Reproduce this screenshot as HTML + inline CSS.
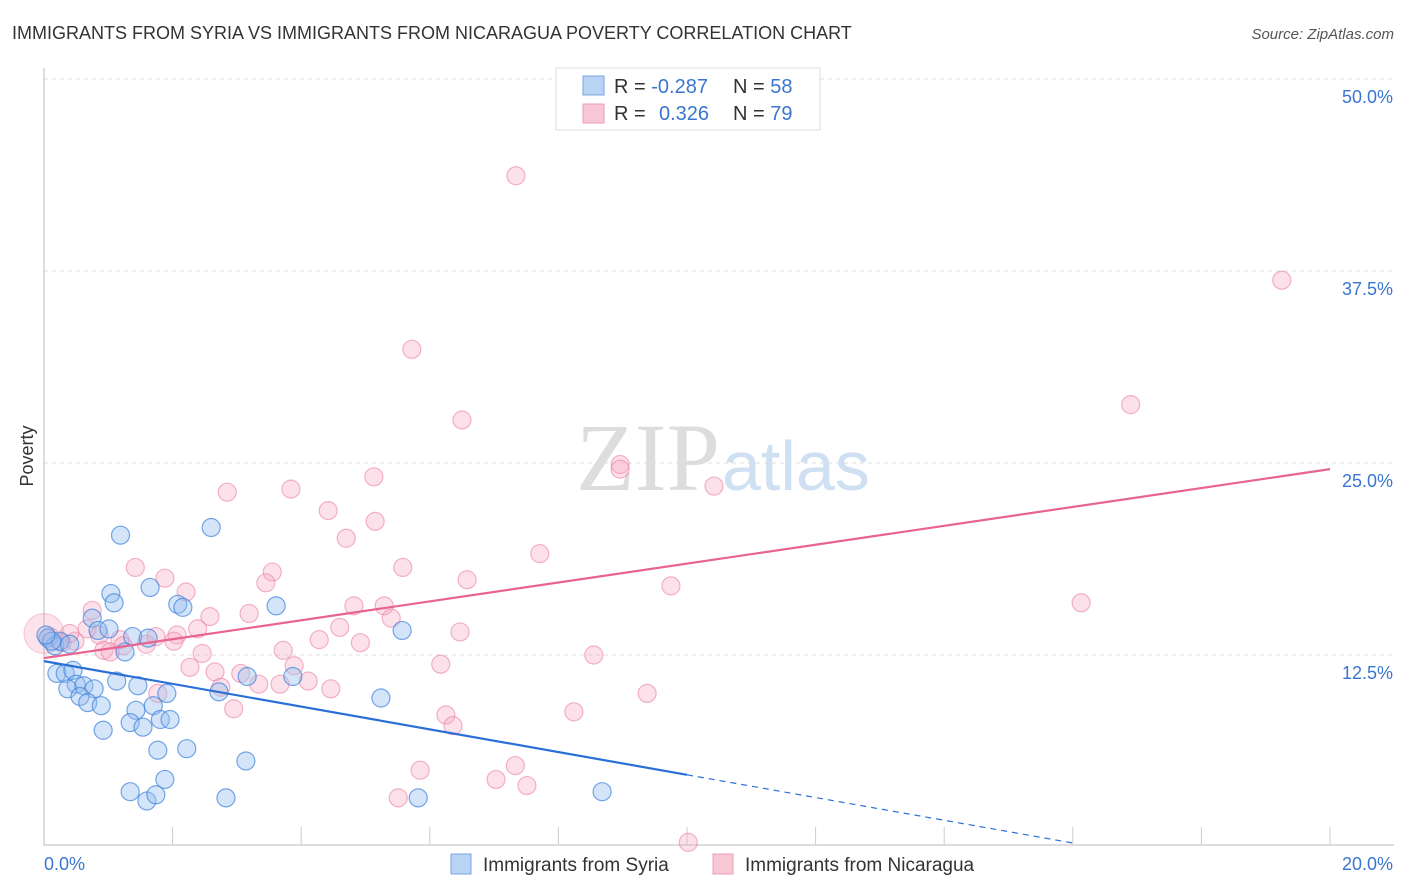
<!DOCTYPE html>
<html><head><meta charset="utf-8">
<style>
body{margin:0;background:#fff;font-family:"Liberation Sans",sans-serif;}
#wrap{position:relative;width:1406px;height:892px;overflow:hidden;}
svg{position:absolute;left:0;top:0;}
</style></head>
<body><div id="wrap">
<svg id="svg" width="1406" height="892">
<text x="12" y="39" font-size="18" fill="#333">IMMIGRANTS FROM SYRIA VS IMMIGRANTS FROM NICARAGUA POVERTY CORRELATION CHART</text>
<text x="1394" y="39" font-size="15" fill="#555" font-style="italic" text-anchor="end">Source: ZipAtlas.com</text>
<text x="720" y="490" font-size="96" fill="#ddd" font-family="Liberation Serif,serif" text-anchor="end">ZIP</text>
<text x="722" y="490" font-size="70" fill="#cfe0f3" text-anchor="start">atlas</text>
<text x="33" y="456" font-size="18" fill="#333" text-anchor="middle" transform="rotate(-90 33 456)">Poverty</text>
<g id="grid"></g><g id="pts"></g><g id="lines"></g>
<g>
<rect x="556" y="68" width="264" height="62" fill="#fff" stroke="#ddd"/>
<rect x="583" y="76" width="21" height="19" fill="#b9d3f5" stroke="#7aa6e0"/>
<rect x="583" y="104" width="21" height="19" fill="#f8c7d6" stroke="#ec9bb4"/>
<text x="614" y="93" font-size="20" fill="#333">R = <tspan fill="#3a76d0">-0.287</tspan></text>
<text x="733" y="93" font-size="20" fill="#333">N = <tspan fill="#3a76d0">58</tspan></text>
<text x="614" y="120" font-size="20" fill="#333">R = <tspan fill="#3a76d0" x="659">0.326</tspan></text>
<text x="733" y="120" font-size="20" fill="#333">N = <tspan fill="#3a76d0">79</tspan></text>
</g>
<g>
<rect x="451" y="854" width="20" height="20" fill="#b9d3f5" stroke="#7aa6e0"/>
<text x="483" y="871" font-size="19" fill="#333">Immigrants from Syria</text>
<rect x="713" y="854" width="20" height="20" fill="#f8c7d6" stroke="#ec9bb4"/>
<text x="745" y="871" font-size="19" fill="#333">Immigrants from Nicaragua</text>
</g>
</svg></div>
<script>
const xTicks=[0,20];
const yTicks=[12.5,25,37.5,50];
const syriaX=[1.19,2.6,1.65,1.04,1.09,2.08,2.16,3.61,0.75,0.84,1.01,1.38,1.62,1.26,5.57,0.06,0.17,0.25,0.4,0.2,0.33,0.45,0.5,0.37,0.62,0.78,0.56,0.68,0.89,0.92,1.13,1.46,1.91,1.7,2.72,3.16,3.87,5.24,1.43,1.34,1.54,1.81,1.96,1.77,2.22,3.14,1.88,1.34,1.6,1.74,2.83,5.82,8.68,0.12,0.03];
const syriaY=[20.3,20.8,16.9,16.5,15.9,15.8,15.6,15.7,14.9,14.1,14.2,13.7,13.6,12.7,14.1,13.6,13.1,13.4,13.2,11.3,11.3,11.5,10.6,10.3,10.5,10.3,9.8,9.4,9.2,7.6,10.8,10.5,10.0,9.2,10.1,11.1,11.1,9.7,8.9,8.1,7.8,8.3,8.3,6.3,6.4,5.6,4.4,3.6,3.0,3.4,3.2,3.2,3.6,13.4,13.8];
const nicX=[7.34,19.25,5.72,16.9,6.5,8.96,8.96,10.42,5.13,2.85,3.84,4.42,5.15,4.7,7.71,1.42,1.88,3.55,3.45,5.58,6.58,9.75,2.21,16.13,0.75,2.58,3.19,4.82,5.29,5.4,4.6,6.47,0.67,0.86,1.18,1.74,2.07,2.39,2.02,1.59,1.23,0.93,1.03,3.72,4.28,4.92,2.46,8.55,2.27,2.66,3.06,3.89,6.17,4.11,2.75,3.34,3.67,4.46,1.77,2.95,6.25,6.36,8.24,9.38,7.33,7.03,5.85,5.51,7.51,10.02,0.09,0.28,0.48,0.4];
const nicY=[43.7,36.9,32.4,28.8,27.8,24.9,24.6,23.5,24.1,23.1,23.3,21.9,21.2,20.1,19.1,18.2,17.5,17.9,17.2,18.2,17.4,17.0,16.6,15.9,15.4,15.0,15.2,15.7,15.7,14.9,14.3,14.0,14.2,13.8,13.5,13.7,13.8,14.2,13.4,13.2,13.1,12.8,12.7,12.8,13.5,13.3,12.6,12.5,11.7,11.4,11.3,11.8,11.9,10.8,10.4,10.6,10.6,10.3,10.0,9.0,8.6,7.9,8.8,10.0,5.3,4.4,5.0,3.2,4.0,0.3,13.7,13.3,13.4,13.9];
const syriaLine=[12.1,-0.74];
const nicLine=[12.3,0.615];
const X=v=>44+v*64.3, Y=v=>847-v*15.36;
const NS='http://www.w3.org/2000/svg';
function mk(t,a,p){const e=document.createElementNS(NS,t);for(const k in a)e.setAttribute(k,a[k]);p.appendChild(e);return e;}
const grid=document.getElementById('grid');
yTicks.forEach(v=>{
 const l=mk('line',{x1:44,x2:1394,y1:Y(v),y2:Y(v),stroke:'#ddd','stroke-dasharray':'4,4'},grid);
 
 
 const t=mk('text',{x:1393,y:Y(v)+24,'font-size':18,fill:'#3a76d0','text-anchor':'end'},grid);
 t.textContent=v.toFixed(1)+'%';
 
 
});
mk('line',{x1:44,x2:44,y1:68,y2:845,stroke:'#bbb'},grid);
mk('line',{x1:44,x2:1394,y1:845,y2:845,stroke:'#bbb'},grid);
for(let i=1;i<=10;i++){const tk=mk('line',{x1:X(i*2),x2:X(i*2),y1:827,y2:845,stroke:'#ccc'},grid);
 
 }
xTicks.forEach((v,i)=>{const t=mk('text',{x:i?1393:44,y:870,'font-size':18,fill:'#3a76d0','text-anchor':i?'end':'start'},grid);
 t.textContent=v.toFixed(1)+'%';
 
 });
const pts=document.getElementById('pts');
const bg=mk('circle',{cx:X(0),cy:Y(13.9),r:20,fill:'rgba(244,160,185,0.3)',stroke:'rgba(234,130,160,0.4)'},pts);


function draw(xs,ys,fill,stroke,name){xs.forEach((v,i)=>{const c=mk('circle',{cx:X(v),cy:Y(ys[i]),r:9,fill,stroke,'stroke-width':1.2},pts);
 
 });}
draw(nicX,nicY,'rgba(246,170,195,0.35)','rgba(235,130,165,0.6)','nicaragua-point');
draw(syriaX,syriaY,'rgba(150,190,240,0.4)','rgba(60,130,220,0.7)','syria-point');
const lines=document.getElementById('lines');
const bl=mk('line',{x1:X(0),y1:Y(syriaLine[0]),x2:X(10),y2:Y(syriaLine[0]+syriaLine[1]*10),stroke:'#2a6fd6','stroke-width':2.2},lines);


const bd=mk('line',{x1:X(10),y1:Y(syriaLine[0]+syriaLine[1]*10),x2:X(16),y2:Y(syriaLine[0]+syriaLine[1]*16),stroke:'#2a6fd6','stroke-width':1.2,'stroke-dasharray':'6,5'},lines);


const pl=mk('line',{x1:X(0),y1:Y(nicLine[0]),x2:X(20),y2:Y(nicLine[0]+nicLine[1]*20),stroke:'#e8648f','stroke-width':2.2},lines);


</script>
</body></html>
